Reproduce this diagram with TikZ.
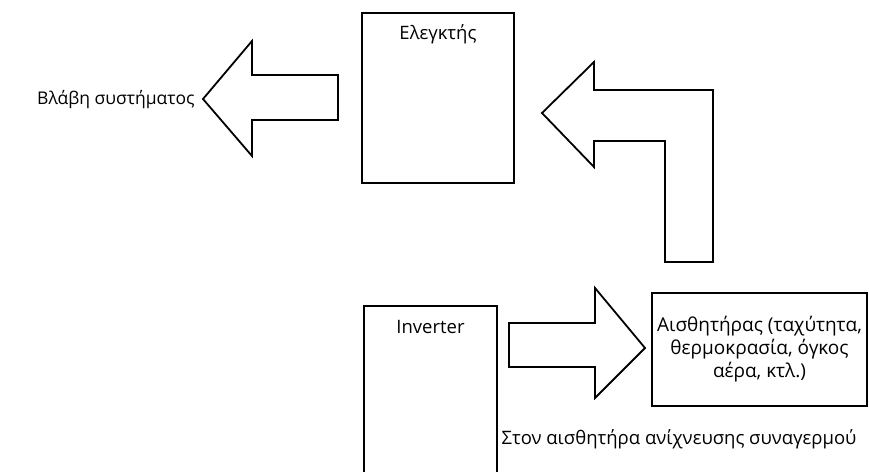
\documentclass[tikz,border=0pt]{standalone}
\usepackage{fontspec}
\setmainfont{Open Sans}
\begin{document}
\begin{tikzpicture}[x=1pt,y=-1pt,
  box/.style={draw,line width=1.8pt,inner sep=0pt},
  blk/.style={draw,line width=1.8pt,line join=miter,fill=white},
  lbl/.style={font=\fontsize{18.5}{23}\selectfont,inner sep=0pt,align=center}]
\useasboundingbox (0,0) rectangle (869,471);
\clip (0,0) rectangle (869,471);
% boxes
\node[box,minimum width=152pt,minimum height=170pt] (ctrl) at (438,98) {};
\node[lbl] (ctrltxt) at (438,34) {Ελεγκτής};
\node[box,minimum width=133pt,minimum height=190pt] (inv) at (430.5,401) {};
\node[lbl] (invtxt) at (430.5,327) {Inverter};
\node[box,minimum width=215pt,minimum height=113pt,lbl,font=\fontsize{19}{23}\selectfont] (sens) at (759.5,349.5) {Αισθητήρας (ταχύτητα,\\θερμοκρασία, όγκος\\αέρα, κτλ.)};
% texts
\node[lbl,anchor=west,font=\fontsize{17.5}{23}\selectfont] (fault) at (37,100) {Βλάβη συστήματος};
\node[lbl] (alarm) at (679,439) {Στον αισθητήρα ανίχνευσης συναγερμού};
% left block arrow (from controller)
\draw[blk] (338,75) -- (252,75) -- (252,41) -- (203,99) -- (252,156) -- (252,120) -- (338,120) -- cycle;
% bent block arrow (into controller)
\draw[blk] (665,262) -- (713,262) -- (713,90) -- (594,90) -- (594,62) -- (542,113) -- (594,167) -- (594,141) -- (665,141) -- cycle;
% right block arrow (inverter to sensor)
\draw[blk] (509,323) -- (595,323) -- (595,288) -- (645,348) -- (595,398) -- (595,367) -- (509,367) -- cycle;
\end{tikzpicture}
\end{document}
